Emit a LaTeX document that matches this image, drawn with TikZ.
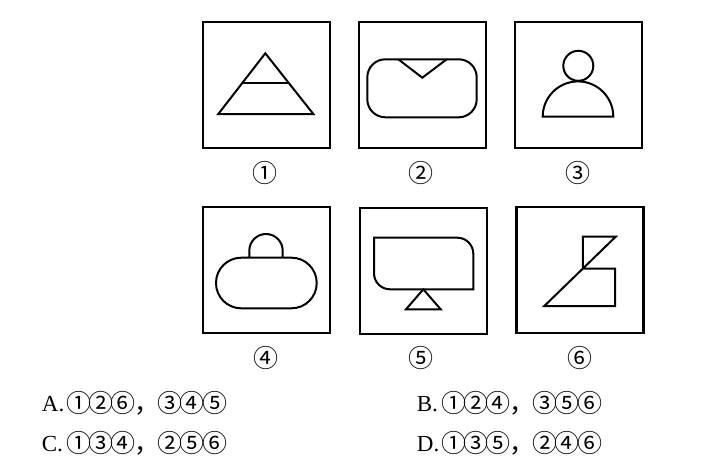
\documentclass[tikz,border=0pt]{standalone}
\usepackage{fontspec}
\setmainfont{Liberation Serif}
\newfontfamily\cjk{Noto Sans CJK SC}
\newcommand\cd[1]{\makebox[22.3pt]{#1}}
\newcommand\cm{\makebox[22.3pt][l]{，}}
\begin{document}
\begin{tikzpicture}[x=1pt,y=1pt,
 box/.style={draw, line width=2.6pt, minimum width=127pt, minimum height=126pt, inner sep=0pt},
 fig/.style={line width=2pt, line join=miter},
 num/.style={font=\fontsize{25}{25}\selectfont\cjk, inner sep=0pt},
 opt/.style={font=\fontsize{23}{23}\selectfont, inner sep=0pt, anchor=base west},
 optn/.style={font=\fontsize{25}{25}\selectfont\cjk, inner sep=0pt, anchor=base west}]
\useasboundingbox (0,0) rectangle (717,467);
\fill[white] (0,0) rectangle (717,467);

% boxes
\node[box] (b1) at (266.5,382) {};
\node[box] (b2) at (422.5,382) {};
\node[box] (b3) at (578.5,382) {};
\node[box] (b4) at (266.5,197) {};
\node[box] (b5) at (423.5,196) {};
\node[box] (b6) at (580,197) {};

% labels
\node[num] (l1) at (265,294) {①};
\node[num] (l2) at (421,294) {②};
\node[num] (l3) at (578,294) {③};
\node[num] (l4) at (266,108.7) {④};
\node[num] (l5) at (420.7,108.7) {⑤};
\node[num] (l6) at (580,108.7) {⑥};

% figure 1: triangle with crossbar
\draw[fig] (265.3,413.7) -- (218.3,353) -- (313.3,353) -- cycle;
\draw[fig] (242.5,384.3) -- (288.5,384.3);

% figure 2: rounded rectangle with notch
\draw[fig, rounded corners=18pt] (367.3,349.7) rectangle (476.7,407.7);
\draw[fig] (398.3,407.7) -- (422.3,389.3) -- (446.7,407.7);

% figure 3: person
\draw[fig] (578.3,401.2) circle[radius=15];
\draw[fig] (542.7,350.3) arc[start angle=180, end angle=0, radius=35.3] -- cycle;

% figure 4: stadium with handle
\draw[fig, rounded corners=25.2pt] (216,158.7) rectangle (316.7,209.3);
\draw[fig] (249.3,209.3) -- (249.3,216.3) arc[start angle=180, end angle=0, radius=16.7] -- (282.7,209.3);

% figure 5: screen on stand
\draw[fig] (374,229.3) -- (457.3,229.3) arc[start angle=90, end angle=0, radius=16] -- (473.3,177.7) -- (390,177.7) arc[start angle=270, end angle=180, radius=16] -- cycle;
\draw[fig] (423.3,177.7) -- (406,157.7) -- (440.7,157.7) -- cycle;

% figure 6
\draw[fig] (582.9,198.5) -- (582.9,230.3) -- (615.7,230.3) -- (544.3,161) -- (615,161) -- (615,198.5) -- cycle;

% options
\node[opt] (oA) at (41.7,56) {A.};
\node[optn] (oA1) at (67.3,55) {\cd{①}\cd{②}\cd{⑥}\cm};
\node[optn] (oA2) at (158.8,55) {\cd{③}\cd{④}\cd{⑤}};
\node[opt] (oB) at (416.7,56) {B.};
\node[optn] (oB1) at (442.3,55) {\cd{①}\cd{②}\cd{④}\cm};
\node[optn] (oB2) at (533.8,55) {\cd{③}\cd{⑤}\cd{⑥}};
\node[opt] (oC) at (41.7,15.3) {C.};
\node[optn] (oC1) at (67.3,14.3) {\cd{①}\cd{③}\cd{④}\cm};
\node[optn] (oC2) at (158.8,14.3) {\cd{②}\cd{⑤}\cd{⑥}};
\node[opt] (oD) at (416.7,15.3) {D.};
\node[optn] (oD1) at (442.3,14.3) {\cd{①}\cd{③}\cd{⑤}\cm};
\node[optn] (oD2) at (533.8,14.3) {\cd{②}\cd{④}\cd{⑥}};
\end{tikzpicture}
\end{document}
